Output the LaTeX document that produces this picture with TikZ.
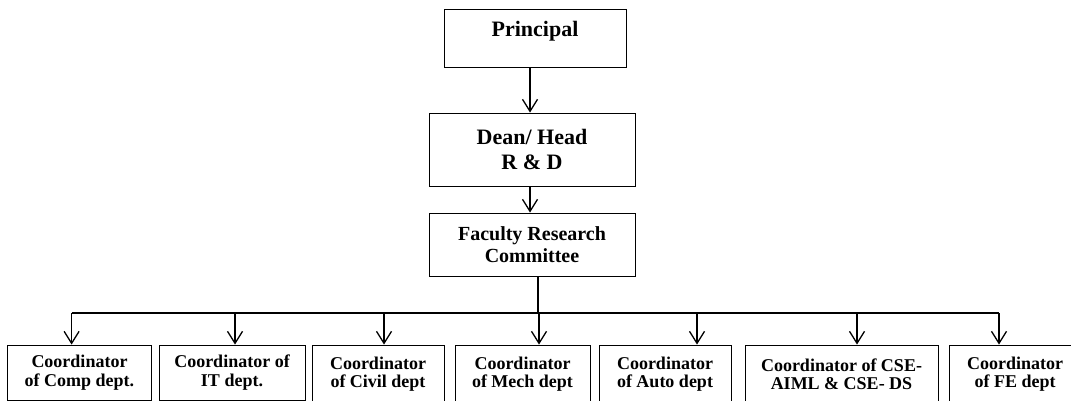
\documentclass[tikz,border=0pt]{standalone}
\usepackage{fontspec}
\setmainfont{Liberation Serif}
\usetikzlibrary{arrows.meta,calc}

\begin{document}
\begin{tikzpicture}[x=1pt,y=-1pt,
  box/.style={draw,line width=0.9pt,align=center,inner xsep=0pt,font=\bfseries},
  arr/.style={line width=1.3pt,-{Straight Barb[length=12pt,width=15pt,line width=1.3pt]}},
  link/.style={line width=1.3pt}]
\useasboundingbox (0,0) rectangle (1071,401);
% top of the chart
\node[box,minimum width=182pt,text height=28pt,text depth=30pt,inner ysep=0pt,font=\bfseries\fontsize{22}{26}\selectfont] (principal) at (535,38) {Principal};
\node[box,minimum width=206pt,minimum height=73pt,font=\bfseries\fontsize{22}{25.5}\selectfont] (dean) at (532,149.5) {Dean/ Head\\ R \& D};
\node[box,minimum width=206pt,minimum height=63pt,font=\bfseries\fontsize{20}{22.5}\selectfont] (frc) at (532,244.5) {Faculty Research\\ Committee};
% coordinators
\tikzset{coord/.style={box,minimum height=55pt,font=\bfseries\fontsize{18}{18.5}\selectfont},
  tall/.style={minimum height=58pt,yshift=-1.5pt}}
\node[coord,minimum width=144pt] (comp) at (79.5,372.5) {Coordinator\\ of Comp dept.};
\node[coord,minimum width=146pt] (it) at (232,372.5) {Coordinator of\\ IT dept.};
\node[coord,tall,minimum width=132pt] (civil) at (378,372.5) {Coordinator\\ of Civil dept};
\node[coord,tall,minimum width=135pt] (mech) at (522.5,372.5) {Coordinator\\ of Mech dept};
\node[coord,tall,minimum width=132pt] (auto) at (665,372.5) {Coordinator\\ of Auto dept};
\node[coord,tall,minimum width=193pt] (cse) at (841.5,372.5) {Coordinator of CSE-\\ AIML \& CSE- DS};
\node[coord,tall,minimum width=132pt] (fe) at (1015,372.5) {Coordinator\\ of FE dept};
% bus line
\coordinate (b1) at (71.6,313);
\coordinate (b2) at (235,313);
\coordinate (b3) at (384,313);
\coordinate (b4) at (539,313);
\coordinate (b5) at (697,313);
\coordinate (b6) at (857,313);
\coordinate (b7) at (999,313);
\draw[arr] ([xshift=-2pt]dean.north |- principal.south) -- ([xshift=-2pt]dean.north);
\draw[arr] ([xshift=-2pt]frc.north |- dean.south) -- ([xshift=-2pt]frc.north);
\draw[link] ([xshift=6pt]frc.south) -- ([xshift=6pt]frc.south |- b1);
\draw[link] (b1) -- (b7);
\draw[arr] (b1) -- (b1 |- comp.north);
\draw[arr] (b2) -- (b2 |- it.north);
\draw[arr] (b3) -- (b3 |- civil.north);
\draw[arr] (b4) -- (b4 |- mech.north);
\draw[arr] (b5) -- (b5 |- auto.north);
\draw[arr] (b6) -- (b6 |- cse.north);
\draw[arr] (b7) -- (b7 |- fe.north);
\end{tikzpicture}
\end{document}
